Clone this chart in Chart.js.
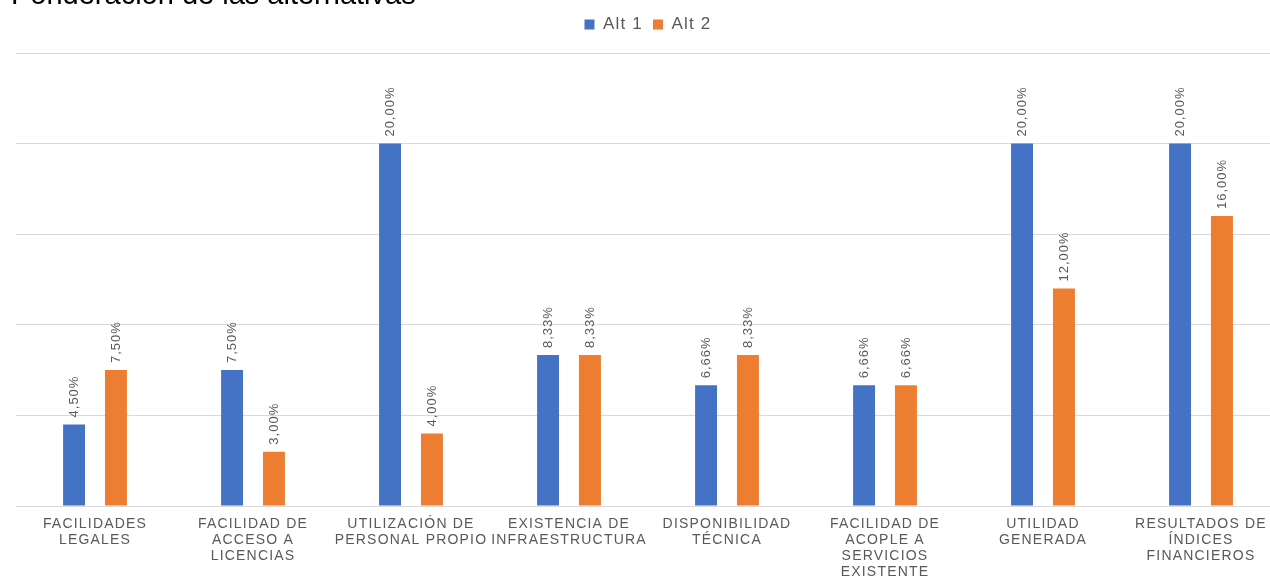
<!DOCTYPE html>
<html>
<head>
<meta charset="utf-8">
<script src="https://cdn.jsdelivr.net/npm/chart.js@4"></script>
<style>
  html, body { margin: 0; padding: 0; background: #fff; overflow: hidden; }
  #wrap { position: relative; width: 1280px; height: 577px; }
</style>
</head>
<body>
<div id="wrap"><canvas id="chart"></canvas></div>
<script>
// datos
const categorias = [
  ["FACILIDADES", "LEGALES"],
  ["FACILIDAD DE", "ACCESO A", "LICENCIAS"],
  ["UTILIZACIÓN DE", "PERSONAL PROPIO"],
  ["EXISTENCIA DE", "INFRAESTRUCTURA"],
  ["DISPONIBILIDAD", "TÉCNICA"],
  ["FACILIDAD DE", "ACOPLE A", "SERVICIOS", "EXISTENTE"],
  ["UTILIDAD", "GENERADA"],
  ["RESULTADOS DE", "ÍNDICES", "FINANCIEROS"]
];
const alt1 = [4.5, 7.5, 20, 8.33, 6.66, 6.66, 20, 20];
const alt2 = [7.5, 3, 4, 8.33, 8.33, 6.66, 12, 16];
const titulo = "Ponderación de las alternativas";

// espaciado de letras en todo el canvas + titulo cortado arriba
const spacing = {
  id: "spacing",
  beforeLayout(chart) {
    chart.ctx.letterSpacing = "1.2px";
  },
  beforeDraw(chart) {
    chart.ctx.letterSpacing = "1.2px";
    const ctx = chart.ctx;
    ctx.save();
    ctx.font = "29px 'Liberation Sans', Arial, sans-serif";
    ctx.fillStyle = "#000";
    ctx.textAlign = "left";
    ctx.textBaseline = "alphabetic";
    ctx.letterSpacing = "0px";
    ctx.fillText(titulo, 11, 4);
    ctx.restore();
  },
};

// etiquetas de valor, giradas
const valueLabels = {
  id: "valueLabels",
  afterDatasetsDraw(chart) {
    const ctx = chart.ctx;
    ctx.save();
    ctx.letterSpacing = "1px";
    ctx.font = "13px 'Liberation Sans', Arial, sans-serif";
    ctx.fillStyle = "#595959";
    ctx.textAlign = "left";
    ctx.textBaseline = "middle";
    chart.data.datasets.forEach(function (ds, i) {
      chart.getDatasetMeta(i).data.forEach(function (bar, j) {
        const txt = ds.data[j].toFixed(2).replace(".", ",") + "%";
        ctx.save();
        ctx.translate(bar.x, bar.y - 7);
        ctx.rotate(-Math.PI / 2);
        ctx.fillText(txt, 0, 0);
        ctx.restore();
      });
    });
    ctx.restore();
  },
};

var ctx = document.getElementById("chart").getContext("2d");
var myChart = new Chart(ctx, {
  type: "bar",
  plugins: [spacing, valueLabels],
  data: {
    labels: categorias,
    datasets: [
      { label: "Alt 1", data: alt1, backgroundColor: "#4472C4" },
      { label: "Alt 2", data: alt2, backgroundColor: "#ED7D31" },
    ],
  },
  options: {
    responsive: true,
    maintainAspectRatio: false,
    animation: false,
    layout: { padding: { left: 16, right: 0, top: 6, bottom: -13 } },
    datasets: {
      bar: { categoryPercentage: 0.53, barPercentage: 0.524 },
    },
    plugins: {
      title: { display: false },
      // hueco entre leyenda y grafico
      subtitle: {
        display: true,
        text: "",
        weight: 500,
        font: { size: 1, lineHeight: 1 },
        padding: { top: 0, bottom: 9 },
      },
      tooltip: { enabled: false },
      legend: {
        position: "top",
        labels: {
          boxWidth: 10,
          boxHeight: 10,
          color: "#595959",
          font: { size: 17, family: "'Liberation Sans', Arial, sans-serif" },
          padding: 10,
        },
      },
    },
    scales: {
      x: {
        grid: { display: false, drawTicks: false },
        border: { display: false },
        ticks: {
          color: "#595959",
          font: { size: 14, family: "'Liberation Sans', Arial, sans-serif", lineHeight: "16px" },
          maxRotation: 0,
          autoSkip: false,
          padding: 10,
        },
      },
      y: {
        min: 0,
        max: 25,
        ticks: { display: false, stepSize: 5 },
        border: { display: false },
        grid: { color: "#d9d9d9", drawTicks: false },
      },
    },
  },
});
</script>
</body>
</html>
